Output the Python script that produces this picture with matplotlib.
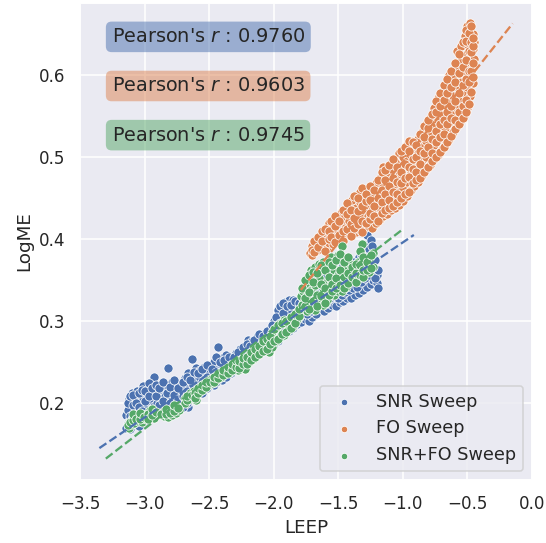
import numpy as np
import matplotlib
matplotlib.use("Agg")
import matplotlib.pyplot as plt
import seaborn as sns

sns.set_theme(style="darkgrid", context="notebook")

# (LEEP, LogME) pairs
snr_pts = [
    (-3.14, 0.170), (-3.14, 0.185),
    (-3.12, 0.178), (-3.12, 0.195), (-3.12, 0.205),
    (-3.10, 0.172), (-3.10, 0.188), (-3.10, 0.200), (-3.10, 0.212),
    (-3.08, 0.182), (-3.08, 0.193), (-3.08, 0.203),
    (-3.06, 0.176), (-3.06, 0.190), (-3.06, 0.208), (-3.06, 0.215),
    (-3.03, 0.180), (-3.03, 0.198), (-3.03, 0.210),
    (-3.01, 0.186), (-3.01, 0.205), (-3.01, 0.221),
    (-2.98, 0.182), (-2.98, 0.195), (-2.98, 0.212),
    (-2.95, 0.188), (-2.95, 0.202), (-2.95, 0.213),
    (-2.93, 0.232), (-2.93, 0.196),
    (-2.90, 0.186), (-2.90, 0.200), (-2.90, 0.215),
    (-2.87, 0.192), (-2.87, 0.213), (-2.87, 0.205),
    (-2.84, 0.196), (-2.84, 0.208), (-2.84, 0.220),
    (-2.82, 0.243), (-2.82, 0.218),
    (-2.79, 0.198), (-2.79, 0.207), (-2.79, 0.226),
    (-2.76, 0.202), (-2.76, 0.215), (-2.76, 0.224),
    (-2.72, 0.200), (-2.72, 0.212), (-2.72, 0.222),
    (-2.69, 0.205), (-2.69, 0.218), (-2.69, 0.230),
    (-2.66, 0.195), (-2.66, 0.210), (-2.66, 0.236),
    (-2.63, 0.254), (-2.63, 0.224),
    (-2.60, 0.212), (-2.60, 0.228), (-2.60, 0.243),
    (-2.57, 0.216), (-2.57, 0.230), (-2.57, 0.240),
    (-2.54, 0.220), (-2.54, 0.235), (-2.54, 0.244),
    (-2.50, 0.222), (-2.50, 0.238),
    (-2.46, 0.250), (-2.46, 0.234), (-2.46, 0.222),
    (-2.43, 0.268), (-2.43, 0.242),
    (-2.40, 0.228), (-2.40, 0.245), (-2.40, 0.255),
    (-2.37, 0.232), (-2.37, 0.248), (-2.37, 0.259),
    (-2.33, 0.237), (-2.33, 0.252),
    (-2.29, 0.240), (-2.29, 0.261),
    (-2.26, 0.245), (-2.26, 0.257), (-2.26, 0.266),
    (-2.22, 0.250), (-2.22, 0.262),
    (-2.20, 0.277), (-2.20, 0.268),
    (-2.17, 0.255), (-2.17, 0.265), (-2.17, 0.275),
    (-2.13, 0.260), (-2.13, 0.272), (-2.13, 0.280),
    (-2.10, 0.264), (-2.10, 0.281),
    (-2.07, 0.266), (-2.07, 0.276), (-2.07, 0.285),
    (-2.03, 0.270), (-2.03, 0.280), (-2.03, 0.290),
    (-2.00, 0.272), (-2.00, 0.285), (-2.00, 0.300),
    (-1.97, 0.276), (-1.97, 0.295), (-1.97, 0.314),
    (-1.94, 0.280), (-1.94, 0.305), (-1.94, 0.320),
    (-1.91, 0.284), (-1.91, 0.300), (-1.91, 0.323),
    (-1.88, 0.288), (-1.88, 0.312), (-1.88, 0.326),
    (-1.85, 0.291), (-1.85, 0.305), (-1.85, 0.326),
    (-1.82, 0.296), (-1.82, 0.318),
    (-1.79, 0.299), (-1.79, 0.310),
    (-1.76, 0.302), (-1.76, 0.320), (-1.76, 0.338),
    (-1.73, 0.300), (-1.73, 0.315), (-1.73, 0.342),
    (-1.70, 0.305), (-1.70, 0.325), (-1.70, 0.350),
    (-1.67, 0.308), (-1.67, 0.330),
    (-1.64, 0.316), (-1.64, 0.338), (-1.64, 0.355),
    (-1.61, 0.312), (-1.61, 0.345),
    (-1.58, 0.316), (-1.58, 0.330), (-1.58, 0.362),
    (-1.55, 0.320), (-1.55, 0.350), (-1.55, 0.370),
    (-1.52, 0.318), (-1.52, 0.340), (-1.52, 0.378),
    (-1.49, 0.323), (-1.49, 0.358),
    (-1.46, 0.325), (-1.46, 0.345), (-1.46, 0.374),
    (-1.43, 0.328), (-1.43, 0.362),
    (-1.40, 0.328), (-1.40, 0.352), (-1.40, 0.368),
    (-1.37, 0.332), (-1.37, 0.348), (-1.37, 0.362),
    (-1.34, 0.334), (-1.34, 0.358), (-1.34, 0.378),
    (-1.31, 0.338), (-1.31, 0.370), (-1.31, 0.390),
    (-1.28, 0.341), (-1.28, 0.360), (-1.28, 0.393), (-1.28, 0.405),
    (-1.25, 0.345), (-1.25, 0.370), (-1.25, 0.399),
    (-1.23, 0.350), (-1.23, 0.383), (-1.23, 0.370),
    (-1.20, 0.346), (-1.20, 0.356),
    # in-between points
    (-3.13, 0.176), (-3.13, 0.192), (-3.13, 0.200),
    (-3.11, 0.168), (-3.11, 0.184), (-3.11, 0.208),
    (-3.09, 0.176), (-3.09, 0.198), (-3.09, 0.210),
    (-3.07, 0.185), (-3.07, 0.200),
    (-3.045, 0.172), (-3.045, 0.195), (-3.045, 0.212),
    (-3.02, 0.190), (-3.02, 0.216),
    (-2.995, 0.178), (-2.995, 0.202), (-2.995, 0.215),
    (-2.965, 0.186), (-2.965, 0.208), (-2.965, 0.224),
    (-2.94, 0.192), (-2.94, 0.218),
    (-2.915, 0.190), (-2.915, 0.208), (-2.915, 0.222),
    (-2.885, 0.198), (-2.885, 0.218),
    (-2.855, 0.188), (-2.855, 0.202), (-2.855, 0.225),
    (-2.825, 0.194), (-2.825, 0.212),
    (-2.80, 0.200), (-2.80, 0.220),
    (-2.775, 0.192), (-2.775, 0.210), (-2.775, 0.228),
    (-2.745, 0.205), (-2.745, 0.218),
    (-2.705, 0.195), (-2.705, 0.208), (-2.705, 0.226),
    (-2.675, 0.200), (-2.675, 0.215), (-2.675, 0.232),
    (-2.645, 0.208), (-2.645, 0.228),
    (-2.615, 0.205), (-2.615, 0.218), (-2.615, 0.238),
    (-2.585, 0.222), (-2.585, 0.236),
    (-2.555, 0.212), (-2.555, 0.226), (-2.555, 0.242),
    (-2.52, 0.218), (-2.52, 0.232), (-2.52, 0.246),
    (-2.48, 0.228), (-2.48, 0.242),
    (-2.445, 0.226), (-2.445, 0.238), (-2.445, 0.256),
    (-2.415, 0.232), (-2.415, 0.250),
    (-2.385, 0.236), (-2.385, 0.252),
    (-2.35, 0.242), (-2.35, 0.256),
    (-2.31, 0.244), (-2.31, 0.256),
    (-2.275, 0.248), (-2.275, 0.262),
    (-2.24, 0.255), (-2.24, 0.268),
    (-2.21, 0.258), (-2.21, 0.272),
    (-2.185, 0.262), (-2.185, 0.270),
    (-2.15, 0.268), (-2.15, 0.277),
    (-2.115, 0.270), (-2.115, 0.284),
    (-2.085, 0.272), (-2.085, 0.282),
    (-2.05, 0.276), (-2.05, 0.288),
    (-2.015, 0.278), (-2.015, 0.295),
    (-1.985, 0.282), (-1.985, 0.305),
    (-1.955, 0.288), (-1.955, 0.318),
    (-1.925, 0.292), (-1.925, 0.310), (-1.925, 0.322),
    (-1.895, 0.295), (-1.895, 0.318),
    (-1.865, 0.298), (-1.865, 0.320),
    (-1.835, 0.302), (-1.835, 0.325),
    (-1.805, 0.305), (-1.805, 0.322),
    (-1.775, 0.310), (-1.775, 0.328),
    (-1.745, 0.308), (-1.745, 0.332),
    (-1.715, 0.312), (-1.715, 0.338),
    (-1.685, 0.315), (-1.685, 0.342),
    (-1.655, 0.320), (-1.655, 0.348),
    (-1.625, 0.325), (-1.625, 0.352),
    (-1.595, 0.322), (-1.595, 0.340), (-1.595, 0.356),
    (-1.565, 0.328), (-1.565, 0.358),
    (-1.535, 0.330), (-1.535, 0.365),
    (-1.505, 0.328), (-1.505, 0.352),
    (-1.475, 0.332), (-1.475, 0.366),
    (-1.445, 0.335), (-1.445, 0.355),
    (-1.415, 0.338), (-1.415, 0.360),
    (-1.385, 0.340), (-1.385, 0.372),
    (-1.355, 0.342), (-1.355, 0.366),
    (-1.325, 0.348), (-1.325, 0.382),
    (-1.295, 0.352), (-1.295, 0.378),
    (-1.265, 0.356), (-1.265, 0.388),
    (-1.24, 0.362), (-1.24, 0.392),
    (-1.215, 0.352), (-1.215, 0.375),
    (-1.195, 0.340), (-1.195, 0.362),
]

fo_pts = [
    (-1.72, 0.383),
    (-1.70, 0.381), (-1.70, 0.392),
    (-1.67, 0.386), (-1.67, 0.396),
    (-1.64, 0.388), (-1.64, 0.400),
    (-1.62, 0.392), (-1.62, 0.405),
    (-1.59, 0.390), (-1.59, 0.402), (-1.59, 0.415),
    (-1.57, 0.395), (-1.57, 0.420),
    (-1.54, 0.394), (-1.54, 0.408), (-1.54, 0.418),
    (-1.51, 0.399), (-1.51, 0.412), (-1.51, 0.425),
    (-1.48, 0.402), (-1.48, 0.418), (-1.48, 0.432),
    (-1.45, 0.404), (-1.45, 0.414), (-1.45, 0.428),
    (-1.42, 0.407), (-1.42, 0.422), (-1.42, 0.440),
    (-1.39, 0.410), (-1.39, 0.430), (-1.39, 0.448),
    (-1.36, 0.409), (-1.36, 0.420), (-1.36, 0.438),
    (-1.33, 0.411), (-1.33, 0.428), (-1.33, 0.445), (-1.33, 0.457),
    (-1.30, 0.414), (-1.30, 0.435), (-1.30, 0.450),
    (-1.27, 0.416), (-1.27, 0.428), (-1.27, 0.442), (-1.27, 0.460),
    (-1.24, 0.413), (-1.24, 0.436), (-1.24, 0.452),
    (-1.21, 0.420), (-1.21, 0.445), (-1.21, 0.468),
    (-1.18, 0.425), (-1.18, 0.438), (-1.18, 0.455), (-1.18, 0.475),
    (-1.15, 0.428), (-1.15, 0.448), (-1.15, 0.465), (-1.15, 0.488),
    (-1.12, 0.430), (-1.12, 0.442), (-1.12, 0.460), (-1.12, 0.478),
    (-1.09, 0.435), (-1.09, 0.452), (-1.09, 0.470), (-1.09, 0.485),
    (-1.06, 0.438), (-1.06, 0.448), (-1.06, 0.465), (-1.06, 0.494),
    (-1.03, 0.442), (-1.03, 0.458), (-1.03, 0.478), (-1.03, 0.505),
    (-1.00, 0.446), (-1.00, 0.462), (-1.00, 0.488), (-1.00, 0.500),
    (-0.97, 0.452), (-0.97, 0.470), (-0.97, 0.495), (-0.97, 0.515),
    (-0.94, 0.460), (-0.94, 0.480), (-0.94, 0.502), (-0.94, 0.520),
    (-0.91, 0.465), (-0.91, 0.478), (-0.91, 0.492), (-0.91, 0.512),
    (-0.88, 0.470), (-0.88, 0.488), (-0.88, 0.505), (-0.88, 0.522),
    (-0.85, 0.478), (-0.85, 0.496), (-0.85, 0.512), (-0.85, 0.530),
    (-0.82, 0.485), (-0.82, 0.500), (-0.82, 0.520), (-0.82, 0.540),
    (-0.79, 0.490), (-0.79, 0.508), (-0.79, 0.528), (-0.79, 0.548),
    (-0.76, 0.498), (-0.76, 0.515), (-0.76, 0.540), (-0.76, 0.560),
    (-0.73, 0.502), (-0.73, 0.522), (-0.73, 0.545), (-0.73, 0.572),
    (-0.70, 0.510), (-0.70, 0.530), (-0.70, 0.552), (-0.70, 0.578),
    (-0.67, 0.515), (-0.67, 0.535), (-0.67, 0.560), (-0.67, 0.585),
    (-0.64, 0.522), (-0.64, 0.542), (-0.64, 0.568), (-0.64, 0.592), (-0.64, 0.600),
    (-0.61, 0.530), (-0.61, 0.552), (-0.61, 0.575), (-0.61, 0.598),
    (-0.58, 0.538), (-0.58, 0.560), (-0.58, 0.585), (-0.58, 0.610), (-0.58, 0.630),
    (-0.55, 0.545), (-0.55, 0.568), (-0.55, 0.592), (-0.55, 0.618), (-0.55, 0.635),
    (-0.52, 0.552), (-0.52, 0.578), (-0.52, 0.600), (-0.52, 0.625), (-0.52, 0.648),
    (-0.50, 0.560), (-0.50, 0.585), (-0.50, 0.612), (-0.50, 0.638), (-0.50, 0.660),
    (-0.48, 0.575), (-0.48, 0.598), (-0.48, 0.622), (-0.48, 0.645), (-0.48, 0.664),
    (-0.46, 0.590), (-0.46, 0.610), (-0.46, 0.632), (-0.46, 0.650),
    (-0.45, 0.620), (-0.45, 0.640),
    # in-between points
    (-1.705, 0.387),
    (-1.685, 0.384), (-1.685, 0.398),
    (-1.655, 0.390), (-1.655, 0.402),
    (-1.625, 0.397), (-1.625, 0.410),
    (-1.605, 0.386), (-1.605, 0.412),
    (-1.575, 0.400), (-1.575, 0.410),
    (-1.555, 0.402), (-1.555, 0.422),
    (-1.525, 0.396), (-1.525, 0.416), (-1.525, 0.428),
    (-1.495, 0.405), (-1.495, 0.422),
    (-1.465, 0.398), (-1.465, 0.410), (-1.465, 0.436),
    (-1.435, 0.412), (-1.435, 0.430), (-1.435, 0.444),
    (-1.405, 0.404), (-1.405, 0.418), (-1.405, 0.435),
    (-1.375, 0.414), (-1.375, 0.426), (-1.375, 0.452),
    (-1.345, 0.418), (-1.345, 0.434), (-1.345, 0.450),
    (-1.315, 0.408), (-1.315, 0.422), (-1.315, 0.440), (-1.315, 0.462),
    (-1.285, 0.420), (-1.285, 0.446), (-1.285, 0.455),
    (-1.255, 0.424), (-1.255, 0.432), (-1.255, 0.448), (-1.255, 0.465),
    (-1.225, 0.428), (-1.225, 0.440), (-1.225, 0.460),
    (-1.195, 0.422), (-1.195, 0.450), (-1.195, 0.472),
    (-1.165, 0.432), (-1.165, 0.445), (-1.165, 0.460), (-1.165, 0.482),
    (-1.135, 0.436), (-1.135, 0.455), (-1.135, 0.472), (-1.135, 0.484),
    (-1.105, 0.438), (-1.105, 0.448), (-1.105, 0.465), (-1.105, 0.490),
    (-1.075, 0.440), (-1.075, 0.458), (-1.075, 0.475), (-1.075, 0.498),
    (-1.045, 0.445), (-1.045, 0.455), (-1.045, 0.470), (-1.045, 0.488),
    (-1.015, 0.450), (-1.015, 0.468), (-1.015, 0.482), (-1.015, 0.508),
    (-0.985, 0.455), (-0.985, 0.475), (-0.985, 0.492), (-0.985, 0.512),
    (-0.955, 0.458), (-0.955, 0.476), (-0.955, 0.488), (-0.955, 0.508), (-0.955, 0.520),
    (-0.925, 0.468), (-0.925, 0.485), (-0.925, 0.498), (-0.925, 0.518),
    (-0.895, 0.472), (-0.895, 0.482), (-0.895, 0.500), (-0.895, 0.515),
    (-0.865, 0.475), (-0.865, 0.492), (-0.865, 0.508), (-0.865, 0.528),
    (-0.835, 0.482), (-0.835, 0.505), (-0.835, 0.525), (-0.835, 0.538),
    (-0.805, 0.488), (-0.805, 0.512), (-0.805, 0.535), (-0.805, 0.545),
    (-0.775, 0.495), (-0.775, 0.505), (-0.775, 0.522), (-0.775, 0.552),
    (-0.745, 0.500), (-0.745, 0.518), (-0.745, 0.532), (-0.745, 0.555), (-0.745, 0.568),
    (-0.715, 0.506), (-0.715, 0.525), (-0.715, 0.540), (-0.715, 0.562), (-0.715, 0.578),
    (-0.685, 0.512), (-0.685, 0.528), (-0.685, 0.545), (-0.685, 0.570), (-0.685, 0.588),
    (-0.655, 0.518), (-0.655, 0.540), (-0.655, 0.555), (-0.655, 0.578), (-0.655, 0.595),
    (-0.625, 0.526), (-0.625, 0.548), (-0.625, 0.562), (-0.625, 0.585), (-0.625, 0.605),
    (-0.595, 0.534), (-0.595, 0.545), (-0.595, 0.568), (-0.595, 0.592), (-0.595, 0.615),
    (-0.565, 0.540), (-0.565, 0.555), (-0.565, 0.578), (-0.565, 0.602), (-0.565, 0.626),
    (-0.535, 0.548), (-0.535, 0.562), (-0.535, 0.588), (-0.535, 0.610), (-0.535, 0.640),
    (-0.51, 0.555), (-0.51, 0.570), (-0.51, 0.595), (-0.51, 0.618), (-0.51, 0.642), (-0.51, 0.655),
    (-0.49, 0.565), (-0.49, 0.592), (-0.49, 0.605), (-0.49, 0.630), (-0.49, 0.652),
    (-0.47, 0.580), (-0.47, 0.605), (-0.47, 0.628), (-0.47, 0.640), (-0.47, 0.660),
    (-0.455, 0.598), (-0.455, 0.615), (-0.455, 0.635), (-0.455, 0.645),
]

both_pts = [
    (-3.12, 0.170), (-3.12, 0.176),
    (-3.10, 0.174), (-3.10, 0.180),
    (-3.08, 0.176), (-3.08, 0.182),
    (-3.05, 0.178), (-3.05, 0.184),
    (-3.02, 0.177), (-3.02, 0.183),
    (-2.99, 0.180), (-2.99, 0.186),
    (-2.96, 0.184), (-2.96, 0.191),
    (-2.93, 0.182), (-2.93, 0.188),
    (-2.90, 0.186),
    (-2.85, 0.184), (-2.85, 0.190),
    (-2.82, 0.183), (-2.82, 0.189),
    (-2.79, 0.185), (-2.79, 0.192),
    (-2.76, 0.188), (-2.76, 0.195),
    (-2.73, 0.192),
    (-2.69, 0.206), (-2.69, 0.200),
    (-2.65, 0.205), (-2.65, 0.212),
    (-2.62, 0.208), (-2.62, 0.215),
    (-2.60, 0.210), (-2.60, 0.203),
    (-2.57, 0.214), (-2.57, 0.220),
    (-2.54, 0.218), (-2.54, 0.224),
    (-2.51, 0.222), (-2.51, 0.228),
    (-2.48, 0.224), (-2.48, 0.230),
    (-2.45, 0.228), (-2.45, 0.233),
    (-2.41, 0.232),
    (-2.37, 0.236), (-2.37, 0.242),
    (-2.34, 0.238), (-2.34, 0.245),
    (-2.31, 0.242), (-2.31, 0.249),
    (-2.28, 0.240), (-2.28, 0.250),
    (-2.25, 0.245), (-2.25, 0.252),
    (-2.22, 0.242), (-2.22, 0.250),
    (-2.19, 0.250), (-2.19, 0.258),
    (-2.16, 0.254), (-2.16, 0.264),
    (-2.13, 0.258), (-2.13, 0.268),
    (-2.10, 0.262), (-2.10, 0.272),
    (-2.07, 0.266), (-2.07, 0.273),
    (-2.04, 0.262), (-2.04, 0.270), (-2.04, 0.280),
    (-2.01, 0.268), (-2.01, 0.286),
    (-1.98, 0.275), (-1.98, 0.292),
    (-1.95, 0.280), (-1.95, 0.298),
    (-1.92, 0.283), (-1.92, 0.301),
    (-1.89, 0.289), (-1.89, 0.296),
    (-1.85, 0.301), (-1.85, 0.294),
    (-1.82, 0.310), (-1.82, 0.302),
    (-1.79, 0.316), (-1.79, 0.330),
    (-1.77, 0.322), (-1.77, 0.336),
    (-1.74, 0.312), (-1.74, 0.330), (-1.74, 0.345),
    (-1.71, 0.318), (-1.71, 0.338), (-1.71, 0.362),
    (-1.68, 0.314), (-1.68, 0.344), (-1.68, 0.366),
    (-1.65, 0.326), (-1.65, 0.353), (-1.65, 0.370),
    (-1.62, 0.320), (-1.62, 0.335), (-1.62, 0.372),
    (-1.59, 0.326), (-1.59, 0.348),
    (-1.56, 0.340), (-1.56, 0.350), (-1.56, 0.378),
    (-1.53, 0.332), (-1.53, 0.362),
    (-1.50, 0.336), (-1.50, 0.356), (-1.50, 0.380),
    (-1.47, 0.336), (-1.47, 0.358), (-1.47, 0.391),
    (-1.44, 0.342), (-1.44, 0.366),
    (-1.41, 0.350), (-1.41, 0.370),
    (-1.38, 0.350), (-1.38, 0.362),
    (-1.35, 0.352), (-1.35, 0.364), (-1.35, 0.372),
    (-1.32, 0.358), (-1.32, 0.394),
    (-1.29, 0.359), (-1.29, 0.366),
    (-1.26, 0.360), (-1.26, 0.376),
    (-1.23, 0.366), (-1.23, 0.383),
    # in-between points
    (-3.13, 0.173), (-3.11, 0.177),
    (-3.09, 0.179), (-3.09, 0.186),
    (-3.065, 0.181),
    (-3.035, 0.181), (-3.035, 0.188),
    (-3.005, 0.183),
    (-2.975, 0.187), (-2.975, 0.181),
    (-2.945, 0.185), (-2.945, 0.193),
    (-2.915, 0.189), (-2.87, 0.187),
    (-2.835, 0.186), (-2.835, 0.193),
    (-2.805, 0.188),
    (-2.775, 0.190), (-2.775, 0.197),
    (-2.745, 0.194),
    (-2.675, 0.203), (-2.675, 0.209),
    (-2.635, 0.210),
    (-2.61, 0.212), (-2.61, 0.206),
    (-2.585, 0.212), (-2.585, 0.218),
    (-2.555, 0.216), (-2.555, 0.222),
    (-2.525, 0.220), (-2.525, 0.226),
    (-2.495, 0.226),
    (-2.465, 0.226), (-2.465, 0.232),
    (-2.43, 0.230), (-2.43, 0.236),
    (-2.39, 0.234), (-2.39, 0.240),
    (-2.355, 0.237), (-2.355, 0.244),
    (-2.325, 0.240), (-2.325, 0.247),
    (-2.295, 0.244), (-2.295, 0.252),
    (-2.265, 0.243), (-2.265, 0.251),
    (-2.235, 0.247), (-2.235, 0.255),
    (-2.205, 0.248), (-2.205, 0.256),
    (-2.175, 0.252), (-2.175, 0.262),
    (-2.145, 0.256), (-2.145, 0.266),
    (-2.115, 0.260), (-2.115, 0.270),
    (-2.085, 0.264), (-2.085, 0.276),
    (-2.055, 0.266), (-2.055, 0.278),
    (-2.025, 0.272), (-2.025, 0.282),
    (-1.995, 0.276), (-1.995, 0.290),
    (-1.965, 0.278), (-1.965, 0.295),
    (-1.935, 0.284), (-1.935, 0.298),
    (-1.905, 0.287), (-1.905, 0.300),
    (-1.87, 0.292), (-1.87, 0.305),
    (-1.835, 0.298), (-1.835, 0.308),
    (-1.805, 0.306), (-1.805, 0.315),
    (-1.78, 0.320), (-1.78, 0.340),
    (-1.755, 0.318), (-1.755, 0.328), (-1.755, 0.350),
    (-1.725, 0.315), (-1.725, 0.335), (-1.725, 0.356),
    (-1.695, 0.325), (-1.695, 0.348), (-1.695, 0.360),
    (-1.665, 0.318), (-1.665, 0.332), (-1.665, 0.358),
    (-1.635, 0.330), (-1.635, 0.345), (-1.635, 0.368),
    (-1.605, 0.322), (-1.605, 0.340), (-1.605, 0.362),
    (-1.575, 0.332), (-1.575, 0.354), (-1.575, 0.372),
    (-1.545, 0.336), (-1.545, 0.345), (-1.545, 0.368),
    (-1.515, 0.340), (-1.515, 0.352), (-1.515, 0.375),
    (-1.485, 0.344), (-1.485, 0.362), (-1.485, 0.382),
    (-1.455, 0.340), (-1.455, 0.354), (-1.455, 0.372),
    (-1.425, 0.346), (-1.425, 0.358), (-1.425, 0.378),
    (-1.395, 0.354), (-1.395, 0.366),
    (-1.365, 0.348), (-1.365, 0.358), (-1.365, 0.370),
    (-1.335, 0.356), (-1.335, 0.368), (-1.335, 0.386),
    (-1.305, 0.354), (-1.305, 0.362), (-1.305, 0.378),
    (-1.275, 0.362), (-1.275, 0.372),
    (-1.245, 0.365), (-1.245, 0.380),
]

labels = ["SNR Sweep", "FO Sweep", "SNR+FO Sweep"]
pearson_r = ["0.9760", "0.9603", "0.9745"]
# dashed fit lines: slope, intercept, x start, x end
fit_slope = [0.1068, 0.1982, 0.1217]
fit_icpt = [0.5027, 0.6927, 0.5337]
fit_x0 = [-3.35, -1.79, -3.30]
fit_x1 = [-0.915, -0.15, -1.00]

colors = sns.color_palette("deep")[:3]

fig = plt.figure(figsize=(546 / 110, 543 / 110), dpi=110)
ax = fig.add_axes([80 / 546, 63 / 543, 452 / 546, 477 / 543])

for pts, lab, c in zip([snr_pts, fo_pts, both_pts], labels, colors):
    arr = np.array(pts)
    ax.scatter(arr[:, 0], arr[:, 1], s=36, color=c, edgecolor="white",
               linewidth=0.5, label=lab, zorder=2)

for i in range(3):
    xs = np.array([fit_x0[i], fit_x1[i]])
    ax.plot(xs, fit_slope[i] * xs + fit_icpt[i], "--", color=colors[i],
            linewidth=1.5, zorder=3)

for i in range(3):
    ax.text(0.07, 0.929 - i * 0.103, "Pearson's $r$ : " + pearson_r[i],
            transform=ax.transAxes, fontsize=12.6, va="center", ha="left",
            bbox=dict(boxstyle="round", facecolor=colors[i], alpha=0.5,
                      edgecolor="none"), zorder=5)

ax.set_xlim(-3.5, 0.0)
ax.set_ylim(0.106, 0.688)
ax.set_xlabel("LEEP")
ax.set_ylabel("LogME")
ax.legend(loc="lower right", markerscale=0.7, fontsize=11.5)

fig.savefig("out.png", dpi=110)
